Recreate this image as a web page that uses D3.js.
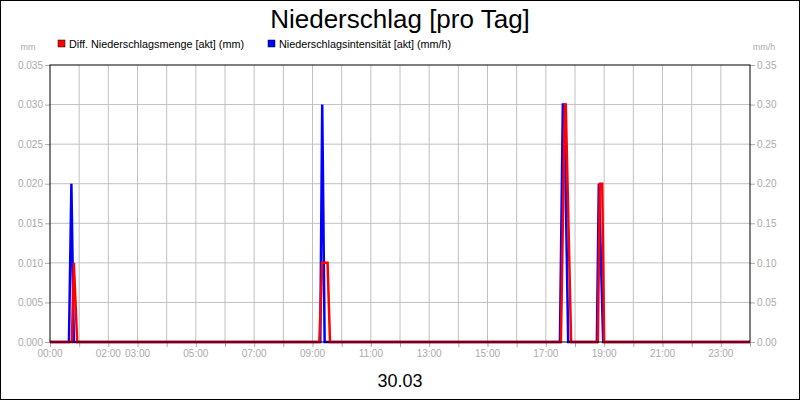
<!DOCTYPE html>
<html>
<head>
<meta charset="utf-8">
<script src="https://cdn.jsdelivr.net/npm/d3@7"></script>
<style>body{margin:0;background:#fff;font-family:Arial,"Liberation Sans",sans-serif;}</style>
</head>
<body>
<script>
// Data (minutes after midnight)
var mengeTimes = [0, 45, 49, 56, 554, 560, 571, 576, 1051, 1059, 1061, 1072, 1127, 1131, 1136, 1140, 1440];
var mengeValues = [0, 0, 0.01, 0, 0, 0.01, 0.01, 0, 0, 0.03, 0.03, 0, 0, 0.02, 0.02, 0, 0];
var intensTimes = [0, 39, 44, 49, 556, 560, 565, 1049, 1055, 1058, 1066, 1125, 1129, 1138, 1440];
var intensValues = [0, 0, 0.2, 0, 0, 0.3, 0, 0, 0.3, 0.3, 0, 0, 0.2, 0, 0];
var xLabels = ["00:00", "02:00", "03:00", "05:00", "07:00", "09:00", "11:00", "13:00", "15:00", "17:00", "19:00", "21:00", "23:00"];
var leftTicks = [0, 0.005, 0.01, 0.015, 0.02, 0.025, 0.03, 0.035];
var rightTicks = [0, 0.05, 0.1, 0.15, 0.2, 0.25, 0.3, 0.35];

var W = 800, H = 400,
	margin = {top: 65, right: 50, bottom: 58, left: 50},
	w = W - margin.left - margin.right,
	h = H - margin.top - margin.bottom,
	grey = "#aaa";

var svg = d3.select("body").append("svg")
	.attr("width", W).attr("height", H);

svg.append("rect")
	.attr("x", 0.5).attr("y", 0.5).attr("width", W - 1).attr("height", H - 1)
	.attr("fill", "white").attr("stroke", "black");

var g = svg.append("g")
	.attr("transform", "translate(" + margin.left + "," + margin.top + ")");

var x = d3.scaleLinear().domain([0, 1440]).range([0, w]);
var yL = d3.scaleLinear().domain([0, 0.035]).range([h, 0]);
var yR = d3.scaleLinear().domain([0, 0.35]).range([h, 0]);
var hours = d3.range(0, 25);

// Grid
g.selectAll(".vg").data(hours.slice(1, 24)).enter().append("line")
	.attr("x1", function(d) {return x(d * 60);}).attr("x2", function(d) {return x(d * 60);})
	.attr("y1", 0).attr("y2", h).attr("stroke", "#c0c0c0");
g.selectAll(".hg").data(leftTicks.slice(1, 7)).enter().append("line")
	.attr("x1", 0).attr("x2", w)
	.attr("y1", function(d) {return yL(d);}).attr("y2", function(d) {return yL(d);})
	.attr("stroke", "#c0c0c0");

// Axes
var axL = g.append("g").call(d3.axisLeft(yL).tickValues(leftTicks).tickFormat(d3.format(".3f")).tickSize(5).tickPadding(2));
var axR = g.append("g").attr("transform", "translate(" + w + ",0)")
	.call(d3.axisRight(yR).tickValues(rightTicks).tickFormat(d3.format(".2f")).tickSize(5).tickPadding(2));
var axB = g.append("g").attr("transform", "translate(0," + h + ")")
	.call(d3.axisBottom(x).tickValues(hours.map(function(d) {return d * 60;})).tickFormat("").tickSize(5));
[axL, axR, axB].forEach(function(a) {
	a.select(".domain").remove();
	a.selectAll(".tick line").attr("stroke", grey);
	a.selectAll("text").attr("fill", grey).attr("font-size", "10px").attr("font-family", "Arial, 'Liberation Sans', sans-serif");
});
g.selectAll(".xl").data(xLabels).enter().append("text")
	.attr("x", function(d) {return x(+d.slice(0, 2) * 60);})
	.attr("y", h + 15)
	.attr("text-anchor", "middle").attr("fill", grey).attr("font-size", "10px")
	.text(function(d) {return d;});

g.append("text").attr("x", -22).attr("y", -15).attr("text-anchor", "middle")
	.attr("fill", grey).attr("font-size", "9px").text("mm");
g.append("text").attr("x", w + 14).attr("y", -15).attr("text-anchor", "middle")
	.attr("fill", grey).attr("font-size", "9px").text("mm/h");

// Lines
var lineR = d3.line().x(function(d) {return x(d[0]);}).y(function(d) {return yR(d[1]);});
var lineL = d3.line().x(function(d) {return x(d[0]);}).y(function(d) {return yL(d[1]);});
g.append("path").attr("d", lineR(d3.zip(intensTimes, intensValues)))
	.attr("fill", "none").attr("stroke", "#0000ff").attr("stroke-width", 2.5);
g.append("path").attr("d", lineL(d3.zip(mengeTimes, mengeValues)))
	.attr("fill", "none").attr("stroke", "#ff0000").attr("stroke-width", 2.5);

// Frame
g.append("rect").attr("x", 0).attr("y", 0).attr("width", w).attr("height", h)
	.attr("fill", "none").attr("stroke", "black");

// Titles
svg.append("text").attr("x", W / 2).attr("y", 28).attr("text-anchor", "middle")
	.attr("font-size", "26px").text("Niederschlag [pro Tag]");
svg.append("text").attr("x", W / 2).attr("y", 387).attr("text-anchor", "middle")
	.attr("font-size", "18px").text("30.03");

// Legend
var legend = [["Diff. Niederschlagsmenge [akt] (mm)", "#ff0000", 58], ["Niederschlagsintensität [akt] (mm/h)", "#0000ff", 268]];
legend.forEach(function(l) {
	svg.append("rect").attr("x", l[2]).attr("y", 40).attr("width", 7).attr("height", 7)
		.attr("fill", l[1]).attr("stroke", "black").attr("stroke-width", 0.5);
	svg.append("text").attr("x", l[2] + 11).attr("y", 47.5).attr("font-size", "10.8px").text(l[0]);
});
</script>
</body>
</html>
